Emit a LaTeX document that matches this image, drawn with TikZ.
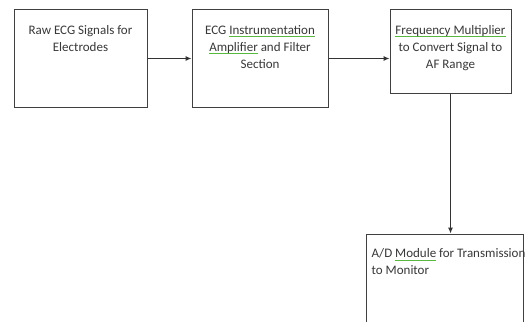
\documentclass[tikz,border=0pt]{standalone}
\usepackage{fontspec}
\setmainfont{Carlito}
\usetikzlibrary{arrows.meta,shadows}
\definecolor{squiggreen}{rgb}{0.35,0.72,0.25}
\definecolor{txtgray}{gray}{0.22}
\newcommand\squig[1]{\leavevmode\setbox0\hbox{#1}\rlap{\textcolor{squiggreen}{\rule[-2.5pt]{\wd0}{0.6pt}}}\box0\relax}
\begin{document}
\begin{tikzpicture}[x=1pt,y=-1pt,
  blk/.style={draw=black!75,line width=1pt,fill=white,inner sep=0pt,
    drop shadow={shadow xshift=1.2pt,shadow yshift=-1.2pt,opacity=0.35}},
  lbl/.style={inner sep=0pt,font=\fontsize{13}{17}\selectfont\color{txtgray}},
  conn/.style={draw=black!80,line width=1pt,-{Latex[length=6pt,width=5pt]}}]
\useasboundingbox (0,0) rectangle (526,321);
\clip (0,0) rectangle (526,321);
\node[blk,minimum width=133pt,minimum height=97pt] (b1) at (80.5,58.5) {};
\node[blk,minimum width=136pt,minimum height=97pt] (b2) at (260,58.5) {};
\node[blk,minimum width=121pt,minimum height=83pt] (b3) at (450.5,51.5) {};
\node[blk,minimum width=157pt,minimum height=100pt] (b4) at (444.5,284) {};
\node[lbl,anchor=north] (t1) at ([yshift=-13pt]b1.north) {\begin{tabular}{@{}c@{}}Raw ECG Signals for\\Electrodes\end{tabular}};
\node[lbl,anchor=north] (t2) at ([yshift=-13pt]b2.north) {\begin{tabular}{@{}c@{}}ECG \squig{Instrumentation}\\\squig{Amplifier} and Filter\\Section\end{tabular}};
\node[lbl,anchor=north] (t3) at ([yshift=-13pt]b3.north) {\begin{tabular}{@{}c@{}}\squig{Frequency Multiplier}\\to Convert Signal to\\AF Range\end{tabular}};
\node[lbl,anchor=north west,align=left] (t4) at ([xshift=6pt,yshift=-15pt]b4.north west) {A/D \squig{Module} for Transmission\\to Monitor};
\draw[conn] (b1.east) -- (b2.west);
\draw[conn] (b2.east) -- (b2.east -| b3.west);
\draw[conn] (b3.south) -- (b3.south |- b4.north);
\end{tikzpicture}
\end{document}
